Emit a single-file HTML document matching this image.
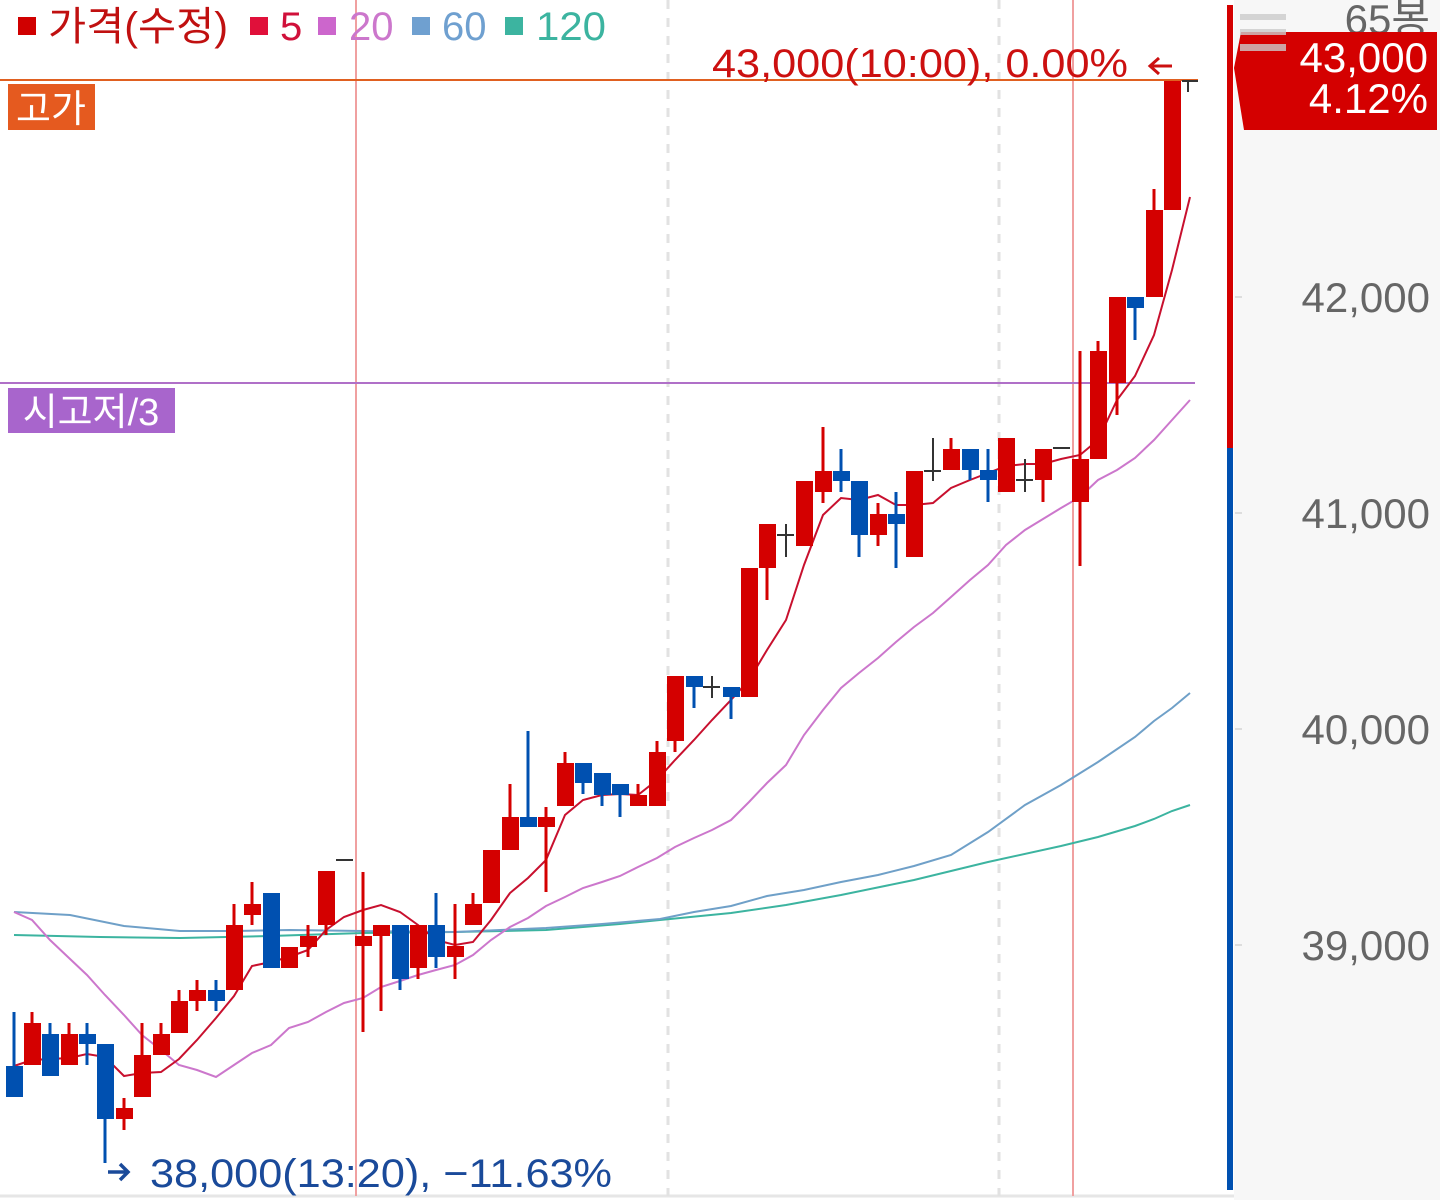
<!DOCTYPE html>
<html><head><meta charset="utf-8"><style>
html,body{margin:0;padding:0;background:#fff;width:1440px;height:1200px;overflow:hidden}
svg text{font-family:"Liberation Sans","Noto Sans CJK KR",sans-serif}
</style></head><body>
<svg width="1440" height="1200" viewBox="0 0 1440 1200" xmlns="http://www.w3.org/2000/svg">
<rect x="1234" y="0" width="206" height="1200" fill="#f7f7f7"/>
<line x1="0" y1="1196" x2="1234" y2="1196" stroke="#e6e6e6" stroke-width="3"/>
<line x1="668" y1="0" x2="668" y2="1196" stroke="#e2e2e2" stroke-width="3" stroke-dasharray="9,9"/>
<line x1="999" y1="0" x2="999" y2="1196" stroke="#e2e2e2" stroke-width="3" stroke-dasharray="9,9"/>
<line x1="356" y1="0" x2="356" y2="1196" stroke="#f0a0a0" stroke-width="2"/>
<line x1="1073" y1="0" x2="1073" y2="1196" stroke="#f0a0a0" stroke-width="2"/>
<line x1="0" y1="80" x2="1198" y2="80" stroke="#e06020" stroke-width="2"/>
<line x1="0" y1="383" x2="1195" y2="383" stroke="#b070c8" stroke-width="2"/>
<rect x="8" y="84" width="87" height="46" fill="#e55a1f"/>
<text x="51" y="122" font-size="38" fill="#fff" text-anchor="middle">고가</text>
<rect x="8" y="388" width="167" height="45" fill="#a865cc"/>
<text x="91" y="425" font-size="38" fill="#fff" text-anchor="middle">시고저/3</text>
<polyline fill="none" stroke="#3cb4a0" stroke-width="2" points="14,935 100,937 180,938 270,936 363,933 455,932 546,930 620,924 660,920 731,913 786,905 841,895 914,880 988,862 1061,846 1098,837 1135,826 1154,819 1172,811 1190,805"/>
<polyline fill="none" stroke="#6fa0c8" stroke-width="2" points="14,912 70,915 124,926 180,931 234,931 290,930 363,931 455,932 546,928 602,924 660,919 694,912 731,906 767,896 804,890 841,882 878,875 914,866 951,855 988,832 1025,805 1061,785 1098,762 1135,737 1154,721 1172,708 1190,693"/>
<polyline fill="none" stroke="#cc77cc" stroke-width="2" points="14,912 32,920 50,940 69,958 87,975 105,995 124,1015 142,1035 161,1050 179,1065 197,1070 216,1077 234,1065 252,1053 271,1045 289,1028 308,1022 326,1012 344,1003 363,998 381,987 400,981 418,975 436,970 455,965 473,955 491,940 510,927 528,918 546,906 565,897 583,888 602,882 620,876 638,867 657,858 675,847 694,838 712,830 731,820 749,802 767,783 786,765 804,735 823,710 841,688 859,673 878,658 896,642 914,627 933,613 951,597 970,580 988,565 1006,545 1025,530 1043,519 1061,508 1080,497 1098,480 1117,470 1135,458 1154,440 1172,420 1190,400"/>
<polyline fill="none" stroke="#c8102e" stroke-width="2" points="14,1066 32,1060 69,1058 87,1054 105,1057 124,1076 142,1073 161,1072 179,1059 197,1040 216,1018 234,996 252,966 271,962 289,957 308,950 326,930 344,917 363,910 381,905 400,912 418,925 436,940 455,945 473,942 491,920 510,893 528,878 546,860 565,815 583,800 602,795 620,794 638,795 657,780 675,760 694,740 712,720 731,700 749,680 767,650 786,620 804,565 823,515 841,498 859,500 878,495 896,505 914,505 933,503 951,488 970,480 988,473 1006,466 1025,464 1043,464 1061,459 1080,455 1098,440 1117,400 1135,376 1154,335 1172,270 1190,197"/>
<g stroke-width="3">
<g stroke="#d40000" fill="#d40000">
<line x1="32" y1="1012" x2="32" y2="1065"/><rect x="24" y="1023" width="17" height="42" stroke="none"/>
<line x1="69" y1="1023" x2="69" y2="1065"/><rect x="61" y="1034" width="17" height="31" stroke="none"/>
<line x1="124" y1="1098" x2="124" y2="1130"/><rect x="116" y="1108" width="17" height="11" stroke="none"/>
<line x1="142" y1="1023" x2="142" y2="1097"/><rect x="134" y="1055" width="17" height="42" stroke="none"/>
<line x1="161" y1="1023" x2="161" y2="1055"/><rect x="153" y="1034" width="17" height="21" stroke="none"/>
<line x1="179" y1="990" x2="179" y2="1033"/><rect x="171" y="1001" width="17" height="32" stroke="none"/>
<line x1="197" y1="980" x2="197" y2="1011"/><rect x="189" y="990" width="17" height="11" stroke="none"/>
<line x1="234" y1="904" x2="234" y2="990"/><rect x="226" y="925" width="17" height="65" stroke="none"/>
<line x1="252" y1="882" x2="252" y2="925"/><rect x="244" y="904" width="17" height="11" stroke="none"/>
<rect x="281" y="947" width="17" height="21" stroke="none"/>
<line x1="308" y1="925" x2="308" y2="957"/><rect x="300" y="936" width="17" height="11" stroke="none"/>
<line x1="326" y1="871" x2="326" y2="935"/><rect x="318" y="871" width="17" height="54" stroke="none"/>
<line x1="363" y1="872" x2="363" y2="1032"/><rect x="355" y="936" width="17" height="10" stroke="none"/>
<line x1="381" y1="925" x2="381" y2="1011"/><rect x="373" y="925" width="17" height="11" stroke="none"/>
<line x1="418" y1="925" x2="418" y2="979"/><rect x="410" y="925" width="17" height="43" stroke="none"/>
<line x1="455" y1="904" x2="455" y2="979"/><rect x="447" y="946" width="17" height="11" stroke="none"/>
<line x1="473" y1="893" x2="473" y2="925"/><rect x="465" y="904" width="17" height="21" stroke="none"/>
<rect x="483" y="850" width="17" height="53" stroke="none"/>
<line x1="510" y1="784" x2="510" y2="850"/><rect x="502" y="817" width="17" height="33" stroke="none"/>
<line x1="546" y1="807" x2="546" y2="892"/><rect x="538" y="817" width="17" height="10" stroke="none"/>
<line x1="565" y1="752" x2="565" y2="806"/><rect x="557" y="763" width="17" height="43" stroke="none"/>
<line x1="638" y1="784" x2="638" y2="806"/><rect x="630" y="795" width="17" height="11" stroke="none"/>
<line x1="657" y1="741" x2="657" y2="806"/><rect x="649" y="752" width="17" height="54" stroke="none"/>
<line x1="675" y1="676" x2="675" y2="752"/><rect x="667" y="676" width="17" height="65" stroke="none"/>
<rect x="741" y="568" width="17" height="129" stroke="none"/>
<line x1="767" y1="524" x2="767" y2="600"/><rect x="759" y="524" width="17" height="44" stroke="none"/>
<rect x="796" y="481" width="17" height="65" stroke="none"/>
<line x1="823" y1="427" x2="823" y2="503"/><rect x="815" y="471" width="17" height="21" stroke="none"/>
<line x1="878" y1="503" x2="878" y2="546"/><rect x="870" y="514" width="17" height="21" stroke="none"/>
<rect x="906" y="471" width="17" height="86" stroke="none"/>
<line x1="951" y1="438" x2="951" y2="470"/><rect x="943" y="449" width="17" height="21" stroke="none"/>
<rect x="998" y="438" width="17" height="54" stroke="none"/>
<line x1="1043" y1="449" x2="1043" y2="502"/><rect x="1035" y="449" width="17" height="31" stroke="none"/>
<line x1="1080" y1="351" x2="1080" y2="566"/><rect x="1072" y="459" width="17" height="43" stroke="none"/>
<line x1="1098" y1="341" x2="1098" y2="459"/><rect x="1090" y="351" width="17" height="108" stroke="none"/>
<line x1="1117" y1="297" x2="1117" y2="415"/><rect x="1109" y="297" width="17" height="86" stroke="none"/>
<line x1="1154" y1="189" x2="1154" y2="297"/><rect x="1146" y="210" width="17" height="87" stroke="none"/>
<rect x="1164" y="81" width="17" height="129" stroke="none"/>
</g>
<g stroke="#0050b0" fill="#0050b0">
<line x1="14" y1="1012" x2="14" y2="1097"/><rect x="6" y="1066" width="17" height="31" stroke="none"/>
<line x1="50" y1="1023" x2="50" y2="1076"/><rect x="42" y="1034" width="17" height="42" stroke="none"/>
<line x1="87" y1="1023" x2="87" y2="1065"/><rect x="79" y="1034" width="17" height="10" stroke="none"/>
<line x1="105" y1="1044" x2="105" y2="1163"/><rect x="97" y="1044" width="17" height="75" stroke="none"/>
<line x1="216" y1="980" x2="216" y2="1011"/><rect x="208" y="990" width="17" height="11" stroke="none"/>
<rect x="263" y="893" width="17" height="75" stroke="none"/>
<line x1="400" y1="925" x2="400" y2="990"/><rect x="392" y="925" width="17" height="54" stroke="none"/>
<line x1="436" y1="893" x2="436" y2="968"/><rect x="428" y="925" width="17" height="32" stroke="none"/>
<line x1="528" y1="731" x2="528" y2="827"/><rect x="520" y="817" width="17" height="10" stroke="none"/>
<line x1="583" y1="763" x2="583" y2="794"/><rect x="575" y="763" width="17" height="20" stroke="none"/>
<line x1="602" y1="773" x2="602" y2="806"/><rect x="594" y="773" width="17" height="22" stroke="none"/>
<line x1="620" y1="784" x2="620" y2="817"/><rect x="612" y="784" width="17" height="11" stroke="none"/>
<line x1="694" y1="676" x2="694" y2="708"/><rect x="686" y="676" width="17" height="11" stroke="none"/>
<line x1="731" y1="687" x2="731" y2="719"/><rect x="723" y="687" width="17" height="10" stroke="none"/>
<line x1="841" y1="449" x2="841" y2="492"/><rect x="833" y="471" width="17" height="10" stroke="none"/>
<line x1="859" y1="481" x2="859" y2="557"/><rect x="851" y="481" width="17" height="54" stroke="none"/>
<line x1="896" y1="492" x2="896" y2="568"/><rect x="888" y="514" width="17" height="10" stroke="none"/>
<line x1="970" y1="449" x2="970" y2="480"/><rect x="962" y="449" width="17" height="21" stroke="none"/>
<line x1="988" y1="449" x2="988" y2="502"/><rect x="980" y="470" width="17" height="10" stroke="none"/>
<line x1="1135" y1="297" x2="1135" y2="340"/><rect x="1127" y="297" width="17" height="11" stroke="none"/>
</g>
<g stroke="#333" stroke-width="2">
<line x1="336" y1="860" x2="353" y2="860"/>
<line x1="703" y1="687" x2="720" y2="687"/><line x1="712" y1="676" x2="712" y2="698"/>
<line x1="777" y1="535" x2="794" y2="535"/><line x1="786" y1="524" x2="786" y2="557"/>
<line x1="924" y1="471" x2="941" y2="471"/><line x1="933" y1="438" x2="933" y2="481"/>
<line x1="1016" y1="480" x2="1033" y2="480"/><line x1="1025" y1="459" x2="1025" y2="492"/>
<line x1="1053" y1="448" x2="1070" y2="448"/>
<line x1="1182" y1="81" x2="1198" y2="81"/><line x1="1188" y1="81" x2="1188" y2="92"/>
</g>
</g>
<text x="712" y="77" font-size="40" fill="#cc1010" textLength="416" lengthAdjust="spacingAndGlyphs">43,000(10:00), 0.00%</text>
<g stroke="#cc1010" stroke-width="3" fill="none"><line x1="1150" y1="66" x2="1172" y2="66"/><polyline points="1159,58 1150,66 1159,74"/></g>
<g stroke="#1a4a9a" stroke-width="3.5" fill="none"><line x1="108" y1="1172" x2="128" y2="1172"/><polyline points="120,1164 128,1172 120,1180"/></g>
<text x="150" y="1187" font-size="40" fill="#1a4a9a" textLength="462" lengthAdjust="spacingAndGlyphs">38,000(13:20), −11.63%</text>
<rect x="18" y="17" width="18" height="18" fill="#d00000"/>
<text x="48" y="40" font-size="40" fill="#c01010" textLength="180" lengthAdjust="spacingAndGlyphs">가격(수정)</text>
<rect x="250" y="17" width="18" height="18" fill="#e0103a"/>
<text x="280" y="40" font-size="40" fill="#d0103a">5</text>
<rect x="318" y="17" width="18" height="18" fill="#cc66cc"/>
<text x="349" y="40" font-size="40" fill="#cc77cc">20</text>
<rect x="412" y="17" width="18" height="18" fill="#6fa0d0"/>
<text x="442" y="40" font-size="40" fill="#6fa0d0">60</text>
<rect x="505" y="17" width="18" height="18" fill="#3cb4a0"/>
<text x="536" y="40" font-size="40" fill="#3cb4a0" textLength="70" lengthAdjust="spacingAndGlyphs">120</text>
<rect x="1227" y="5" width="6" height="443" fill="#d40000"/>
<rect x="1227" y="448" width="6" height="742" fill="#0050b0"/>
<g stroke="#ddd" stroke-width="2">
<line x1="1235" y1="297" x2="1242" y2="297"/><line x1="1235" y1="513" x2="1242" y2="513"/>
<line x1="1235" y1="729" x2="1242" y2="729"/><line x1="1235" y1="945" x2="1242" y2="945"/>
</g>
<g font-size="42" fill="#666" text-anchor="end">
<text x="1430" y="312">42,000</text>
<text x="1430" y="528">41,000</text>
<text x="1430" y="744">40,000</text>
<text x="1430" y="960">39,000</text>
<text x="1430" y="34">65봉</text>
</g>
<polygon points="1241,32 1437,32 1437,130 1244,130 1234,68" fill="#d40000"/>
<g fill="#ccc" opacity="0.8">
<rect x="1240" y="14" width="46" height="6"/><rect x="1240" y="29" width="46" height="6"/><rect x="1240" y="44" width="46" height="7"/>
</g>
<text x="1428" y="72" font-size="42" fill="#fff" text-anchor="end">43,000</text>
<text x="1428" y="113" font-size="42" fill="#fff" text-anchor="end">4.12%</text>
</svg>
</body></html>
